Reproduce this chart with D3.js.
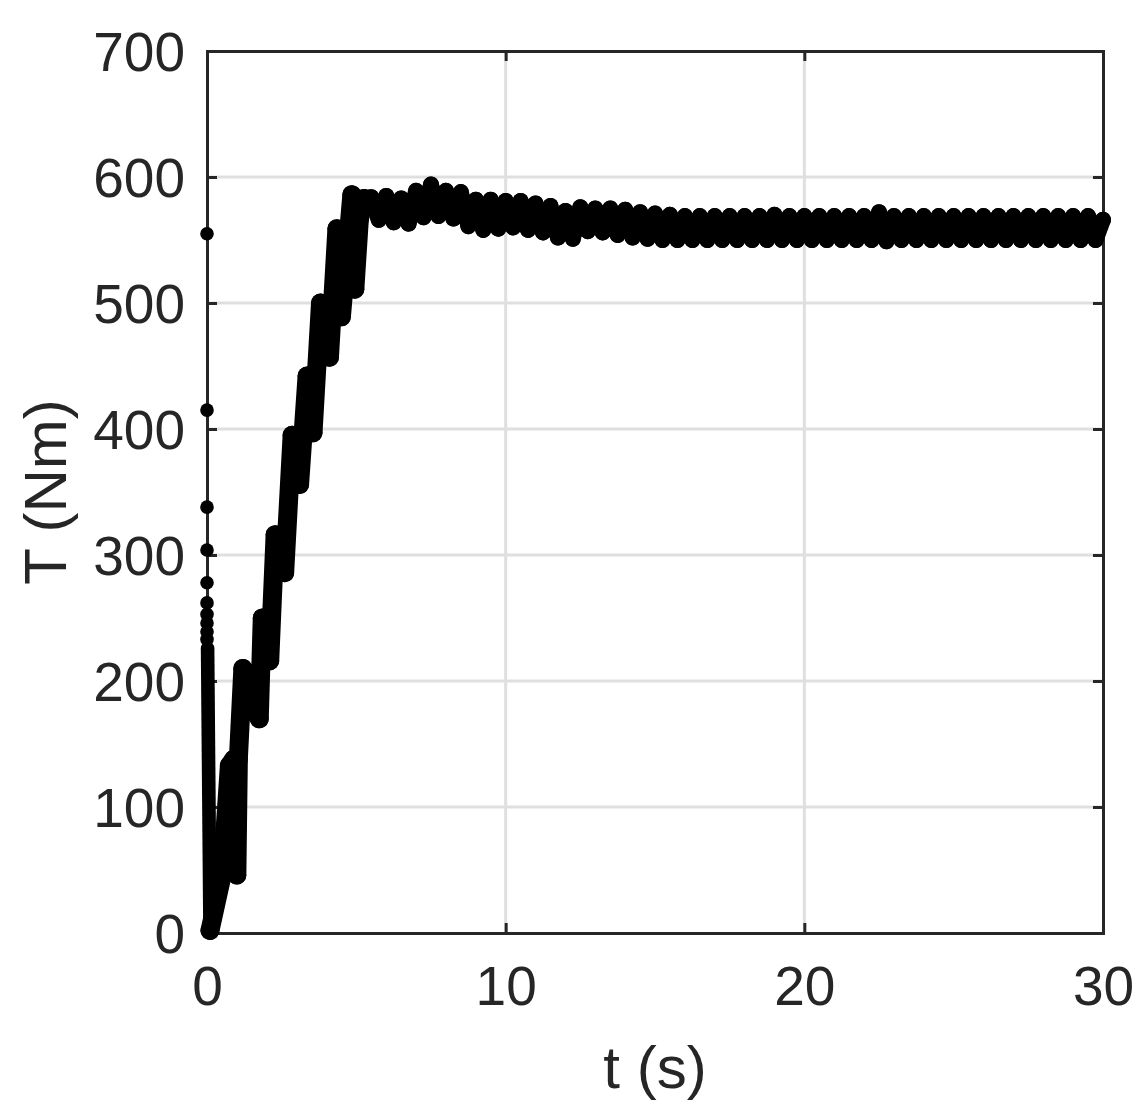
<!DOCTYPE html>
<html>
<head>
<meta charset="utf-8">
<script src="https://cdn.jsdelivr.net/npm/d3@7"></script>
<style>
  html, body { margin: 0; padding: 0; background: #ffffff; }
  svg { display: block; }
  text { font-family: "Liberation Sans", Arial, Helvetica, sans-serif; fill: #262626; }
</style>
</head>
<body>
<script>
// ---- data ----
const xTicks = [0, 10, 20, 30];
const yTicks = [0, 100, 200, 300, 400, 500, 600, 700];
const xLabel = "t (s)";
const yLabel = "T (Nm)";

// initial samples at start-up (isolated dots at t≈0)
const tStart = [0, 0, 0, 0, 0, 0, 0, 0, 0, 0];
const TStart = [555, 415, 338, 304, 278, 262, 253, 246, 239, 233];

// main trace: start-up transient and ramp
const tRamp = [0.02, 0.1, 0.5, 0.75, 0.9, 1.0, 1.05, 1.2, 1.75, 1.85, 2.1, 2.28, 2.6, 2.85, 3.1, 3.35, 3.55, 3.8, 4.1, 4.35, 4.5, 4.85, 4.95, 5.1, 5.25];
const TRamp = [226, 2, 45, 133, 138, 46, 138, 210, 170, 250, 216, 316, 286, 395, 356, 442, 397, 500, 457, 559, 489, 586, 511, 566, 583];

// steady oscillation: alternating high / low samples
const tSteady = [
  5.5, 5.75, 6.0, 6.25, 6.5, 6.75, 7.0, 7.25, 7.5, 7.75,
  8.0, 8.25, 8.5, 8.75, 9.0, 9.25, 9.5, 9.75, 10.0, 10.25,
  10.5, 10.75, 11.0, 11.25, 11.5, 11.75, 12.0, 12.25, 12.5, 12.75,
  13.0, 13.25, 13.5, 13.75, 14.0, 14.25, 14.5, 14.75, 15.0, 15.25,
  15.5, 15.75, 16.0, 16.25, 16.5, 16.75, 17.0, 17.25, 17.5, 17.75,
  18.0, 18.25, 18.5, 18.75, 19.0, 19.25, 19.5, 19.75, 20.0, 20.25,
  20.5, 20.75, 21.0, 21.25, 21.5, 21.75, 22.0, 22.25, 22.5, 22.75,
  23.0, 23.25, 23.5, 23.75, 24.0, 24.25, 24.5, 24.75, 25.0, 25.25,
  25.5, 25.75, 26.0, 26.25, 26.5, 26.75, 27.0, 27.25, 27.5, 27.75,
  28.0, 28.25, 28.5, 28.75, 29.0, 29.25, 29.5, 29.75, 30.0
];
const TSteady = [
  584, 566, 585, 564, 583, 563, 589, 568, 594, 569,
  589, 567, 588, 561, 582, 558, 582, 559, 581, 560,
  581, 558, 579, 556, 577, 552, 573, 551, 576, 557,
  575, 556, 575, 554, 574, 552, 572, 551, 571, 550,
  570, 550, 569, 550, 569, 550, 569, 550, 569, 550,
  569, 550, 569, 550, 570, 550, 569, 550, 569, 550,
  569, 550, 569, 550, 569, 550, 569, 550, 572, 549,
  569, 550, 569, 550, 569, 550, 569, 550, 569, 550,
  569, 550, 569, 550, 569, 550, 569, 550, 569, 550,
  569, 550, 569, 550, 569, 550, 569, 550, 566
];

// ---- layout ----
const W = 1141, H = 1114;
const margin = { left: 207, right: W - 1103, top: 51, bottom: H - 933 };
const iw = W - margin.left - margin.right;
const ih = H - margin.top - margin.bottom;

const svg = d3.select("body").append("svg").attr("width", W).attr("height", H);
const g = svg.append("g").attr("transform", `translate(${margin.left},${margin.top})`);

const x = d3.scaleLinear().domain([0, 30]).range([0, iw]);
const y = d3.scaleLinear().domain([0, 700]).range([ih, 0]);

const axisColor = "#262626";
const gridColor = "#dfdfdf";

// grid
g.append("g").selectAll("line.gx").data(xTicks.slice(1, -1)).join("line")
  .attr("x1", d => x(d)).attr("x2", d => x(d)).attr("y1", 0).attr("y2", ih)
  .attr("stroke", gridColor).attr("stroke-width", 3);
g.append("g").selectAll("line.gy").data(yTicks.slice(1, -1)).join("line")
  .attr("y1", d => y(d)).attr("y2", d => y(d)).attr("x1", 0).attr("x2", iw)
  .attr("stroke", gridColor).attr("stroke-width", 3);

// axes (ticks inward on all four sides)
const tickLen = 10;
const fontTick = 55;
const axB = g.append("g").attr("transform", `translate(0,${ih})`)
  .call(d3.axisBottom(x).tickValues(xTicks).tickSize(-tickLen).tickPadding(33).tickFormat(d3.format("d")));
const axT = g.append("g")
  .call(d3.axisTop(x).tickValues(xTicks).tickSize(-tickLen).tickFormat(""));
const axL = g.append("g")
  .call(d3.axisLeft(y).tickValues(yTicks).tickSize(-tickLen).tickPadding(22).tickFormat(d3.format("d")));
const axR = g.append("g").attr("transform", `translate(${iw},0)`)
  .call(d3.axisRight(y).tickValues(yTicks).tickSize(-tickLen).tickFormat(""));

[axB, axT, axL, axR].forEach(a => {
  a.select(".domain").attr("stroke", axisColor).attr("stroke-width", 3);
  a.selectAll(".tick line").attr("stroke", axisColor).attr("stroke-width", 3);
  a.selectAll(".tick text").attr("font-size", fontTick)
    .attr("font-family", '"Liberation Sans", Arial, sans-serif').attr("fill", axisColor);
});
axL.selectAll(".tick text").attr("dy", "0.36em");

// labels
svg.append("text")
  .attr("x", margin.left + iw / 2).attr("y", 1088)
  .attr("text-anchor", "middle").attr("font-size", 60).text(xLabel);
svg.append("text")
  .attr("transform", `translate(66,${margin.top + ih / 2}) rotate(-90)`)
  .attr("text-anchor", "middle").attr("font-size", 60).text(yLabel);

// data
const r = 8;
const rRamp = 9.5;
const rStart = 6.8;
const rampPts = tRamp.map((t, i) => [t, TRamp[i]]);
const steadyPts = tSteady.map((t, i) => [t, TSteady[i]]);
const line = d3.line().x(d => x(d[0])).y(d => y(d[1]));

const dg = g.append("g");
// steady part
dg.append("path").datum([rampPts[rampPts.length - 1]].concat(steadyPts)).attr("d", line)
  .attr("fill", "none").attr("stroke", "#000").attr("stroke-width", 2 * r)
  .attr("stroke-linejoin", "round").attr("stroke-linecap", "round");
dg.selectAll("circle.m").data(steadyPts).join("circle")
  .attr("cx", d => x(d[0])).attr("cy", d => y(d[1])).attr("r", r).attr("fill", "#000");
// ramp part (start-up, a bit bulkier as in the reference)
dg.append("path").datum(rampPts.slice(0, 2)).attr("d", line)
  .attr("fill", "none").attr("stroke", "#000").attr("stroke-width", 2 * rStart)
  .attr("stroke-linejoin", "round").attr("stroke-linecap", "round");
dg.append("path").datum(rampPts.slice(1)).attr("d", line)
  .attr("fill", "none").attr("stroke", "#000").attr("stroke-width", 2 * rRamp)
  .attr("stroke-linejoin", "round").attr("stroke-linecap", "round");
dg.selectAll("circle.rp").data(rampPts.slice(1)).join("circle")
  .attr("cx", d => x(d[0])).attr("cy", d => y(d[1])).attr("r", rRamp).attr("fill", "#000");
dg.selectAll("circle.s").data(tStart.map((t, i) => [t, TStart[i]])).join("circle")
  .attr("cx", d => x(d[0])).attr("cy", d => y(d[1])).attr("r", rStart).attr("fill", "#000");
</script>
</body>
</html>
